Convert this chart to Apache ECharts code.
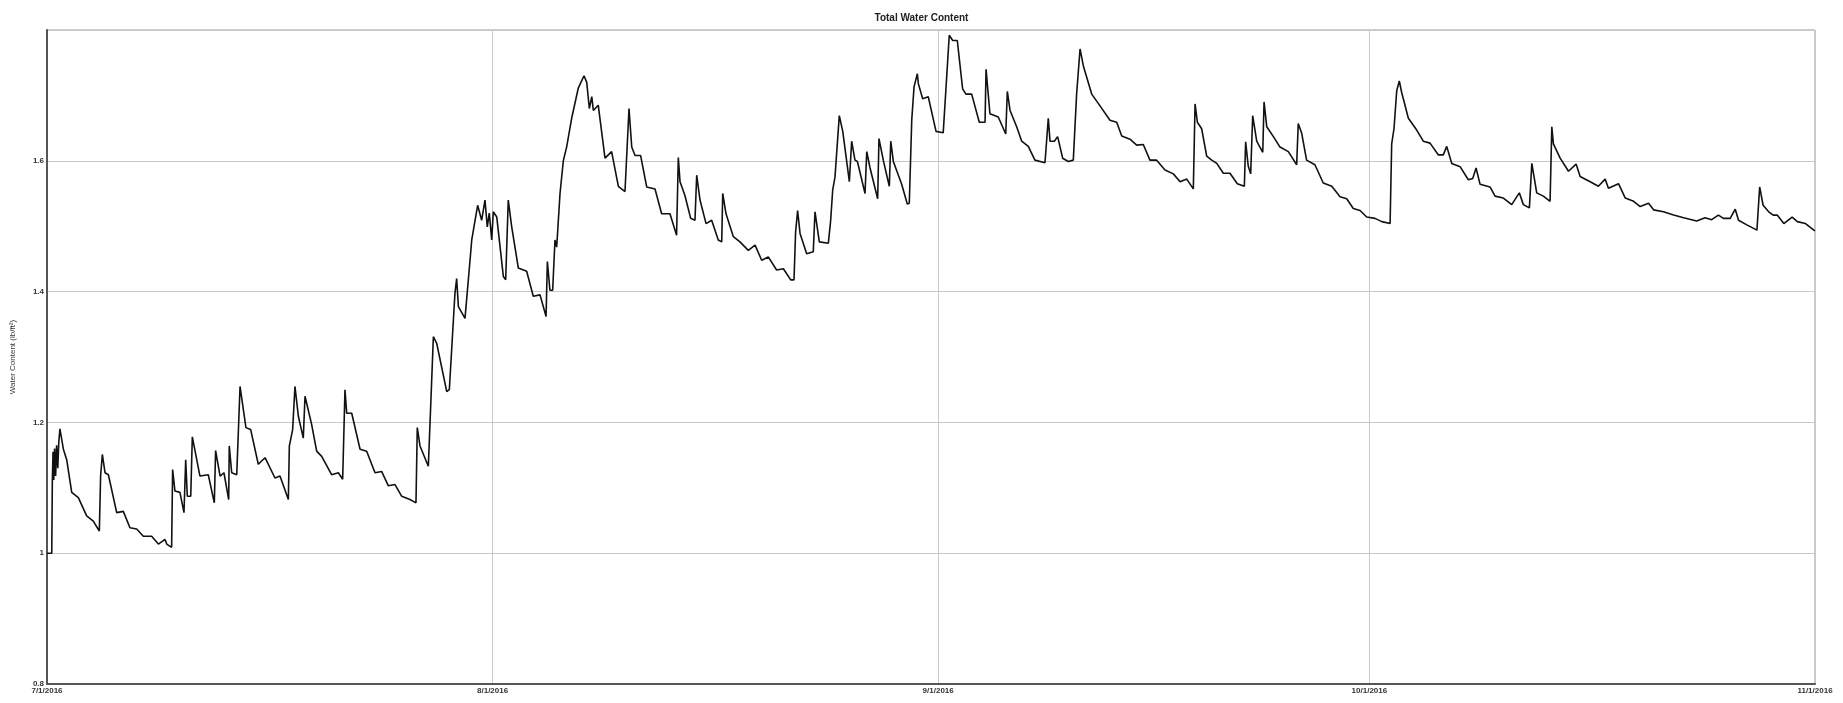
<!DOCTYPE html>
<html>
<head>
<meta charset="utf-8">
<script src="https://cdn.jsdelivr.net/npm/echarts@6/dist/echarts.min.js"></script>
<style>
  html, body { margin: 0; padding: 0; background: #fff; }
  #chart { width: 1843px; height: 703px; }
</style>
</head>
<body>
<div id="chart"></div>
<script>
// days since 7/1/2016
var dayOffsets = [
  0, 0.33, 0.37, 0.42, 0.47, 0.53, 0.6, 0.67, 0.75, 0.82, 0.9, 1.14, 1.37, 1.72, 2.18, 2.76, 3.22, 3.64, 3.73, 3.85,
  4.04, 4.27, 4.85, 5.31, 5.77, 6.24, 6.7, 7.28, 7.75, 8.21, 8.33, 8.67, 8.74, 8.9, 9.25, 9.53, 9.65, 9.76, 10.0, 10.11,
  10.64, 11.22, 11.64, 11.73, 12.04, 12.31, 12.64, 12.68, 12.85, 13.2, 13.43, 13.84, 14.17, 14.7, 15.17, 15.86, 16.21, 16.79, 16.86, 17.09,
  17.25, 17.49, 17.83, 17.95, 18.41, 18.76, 19.11, 19.8, 20.27, 20.57, 20.73, 20.85, 21.2, 21.78, 22.24, 22.82, 23.28, 23.75, 24.21, 24.68,
  25.25, 25.67, 25.76, 25.95, 26.53, 26.88, 27.11, 27.81, 27.99, 28.38, 28.5, 28.62, 29.08, 29.43, 29.55, 29.96, 30.24, 30.47, 30.63, 30.77,
  30.94, 31.05, 31.29, 31.75, 31.91, 32.09, 32.33, 32.79, 33.37, 33.83, 34.3, 34.72, 34.81, 34.99, 35.18, 35.34, 35.46, 35.69, 35.92, 36.15,
  36.5, 36.96, 37.36, 37.55, 37.73, 37.9, 38.01, 38.35, 38.82, 39.28, 39.75, 40.21, 40.33, 40.49, 40.68, 40.91, 41.3, 41.72, 42.3, 42.76,
  43.34, 43.8, 43.92, 44.04, 44.38, 44.78, 45.08, 45.2, 45.43, 45.85, 46.24, 46.7, 46.94, 47.01, 47.24, 47.75, 48.21, 48.79, 49.26, 49.72,
  50.18, 50.76, 51.23, 51.74, 51.97, 52.08, 52.22, 52.39, 52.85, 53.31, 53.43, 53.73, 54.36, 54.52, 54.66, 54.82, 55.12, 55.36, 55.82, 55.98,
  56.21, 56.38, 56.91, 57.03, 57.26, 57.79, 57.88, 58.18, 58.6, 58.7, 58.88, 59.46, 59.85, 59.99, 60.16, 60.32, 60.55, 60.62, 60.92, 61.31,
  61.85, 62.35, 62.59, 62.77, 63.01, 63.33, 63.7, 63.93, 64.33, 64.86, 65.26, 65.33, 65.6, 66.18, 66.7, 66.81, 67.0, 67.46, 67.81, 68.27,
  68.73, 69.43, 69.55, 69.66, 69.78, 70.08, 70.31, 70.66, 71.05, 71.4, 71.63, 71.87, 72.1, 72.68, 73.26, 73.95, 74.42, 74.77, 75.34, 75.81,
  76.27, 76.73, 77.2, 77.78, 78.36, 78.83, 79.29, 79.75, 79.87, 80.03, 80.33, 80.68, 81.03, 81.38, 81.84, 82.3, 82.81, 83.3, 83.39, 83.57,
  83.74, 83.88, 84.16, 84.58, 84.67, 84.86, 85.32, 85.78, 86.36, 86.94, 87.05, 87.29, 87.63, 88.21, 88.79, 89.38, 89.96, 90.42, 90.88, 91.35,
  91.81, 92.39, 92.86, 93.44, 93.55, 93.71, 93.9, 94.08, 94.25, 94.71, 95.29, 95.75, 96.22, 96.8, 97.14, 97.38, 97.73, 98.31, 98.88, 99.19,
  99.42, 99.7, 100.39, 100.74, 101.32, 101.9, 102.43, 102.71, 103.13, 103.3, 103.64, 104.1, 104.57, 104.69, 104.8, 105.27, 105.85, 106.38, 106.66, 107.36,
  107.93, 108.4, 108.63, 109.33, 109.8, 110.38, 110.84, 111.42, 111.77, 112.46, 113.16, 113.86, 114.77, 115.35, 115.81, 116.28, 116.63, 117.1, 117.45, 117.68,
  118.26, 118.96, 119.15, 119.39, 119.78, 120.09, 120.37, 120.83, 121.41, 121.77, 122.34, 122.92, 123
];

// total water content (lb/ft2)
var waterContent = [
  1.0, 1.0, 1.108, 1.155, 1.112, 1.16, 1.118, 1.165, 1.13, 1.17, 1.19, 1.159, 1.143, 1.093, 1.085, 1.057, 1.049, 1.034, 1.118, 1.151,
  1.123, 1.12, 1.062, 1.064, 1.039, 1.037, 1.026, 1.026, 1.014, 1.021, 1.014, 1.009, 1.128, 1.095, 1.093, 1.062, 1.143, 1.087, 1.087, 1.178,
  1.118, 1.12, 1.077, 1.157, 1.118, 1.123, 1.082, 1.164, 1.123, 1.12, 1.255, 1.192, 1.189, 1.136, 1.146, 1.115, 1.118, 1.082, 1.164, 1.189,
  1.255, 1.209, 1.176, 1.24, 1.197, 1.156, 1.148, 1.12, 1.123, 1.113, 1.25, 1.214, 1.214, 1.159, 1.156, 1.123, 1.125, 1.103, 1.105, 1.087,
  1.082, 1.077, 1.192, 1.164, 1.133, 1.331, 1.321, 1.247, 1.25, 1.397, 1.42, 1.377, 1.359, 1.448, 1.479, 1.532, 1.509, 1.54, 1.499, 1.52,
  1.479, 1.522, 1.514, 1.423, 1.418, 1.54, 1.499, 1.436, 1.431, 1.393, 1.395, 1.362, 1.446, 1.402, 1.402, 1.479, 1.468, 1.55, 1.6, 1.621,
  1.665, 1.711, 1.73, 1.72, 1.68, 1.698, 1.677, 1.685, 1.604, 1.614, 1.561, 1.553, 1.553, 1.68, 1.621, 1.608, 1.608, 1.56, 1.557, 1.519,
  1.519, 1.486, 1.605, 1.568, 1.547, 1.512, 1.509, 1.578, 1.54, 1.504, 1.509, 1.479, 1.476, 1.55, 1.519, 1.484, 1.476, 1.463, 1.471, 1.448,
  1.453, 1.433, 1.435, 1.418, 1.418, 1.491, 1.524, 1.489, 1.458, 1.461, 1.522, 1.476, 1.474, 1.509, 1.555, 1.575, 1.669, 1.645, 1.568, 1.63,
  1.601, 1.599, 1.55, 1.614, 1.589, 1.542, 1.634, 1.601, 1.561, 1.63, 1.599, 1.564, 1.534, 1.535, 1.662, 1.713, 1.733, 1.718, 1.695, 1.698,
  1.645, 1.643, 1.728, 1.792, 1.784, 1.784, 1.71, 1.702, 1.702, 1.659, 1.659, 1.74, 1.672, 1.667, 1.641, 1.706, 1.677, 1.652, 1.63, 1.622,
  1.601, 1.597, 1.594, 1.665, 1.63, 1.63, 1.637, 1.604, 1.599, 1.601, 1.702, 1.771, 1.745, 1.702, 1.684, 1.662, 1.659, 1.638, 1.633, 1.624,
  1.625, 1.601, 1.601, 1.586, 1.58, 1.568, 1.572, 1.557, 1.687, 1.659, 1.649, 1.607, 1.601, 1.596, 1.581, 1.581, 1.565, 1.561, 1.629, 1.592,
  1.58, 1.669, 1.63, 1.613, 1.69, 1.652, 1.637, 1.621, 1.614, 1.594, 1.657, 1.642, 1.601, 1.594, 1.566, 1.561, 1.545, 1.542, 1.527, 1.524,
  1.514, 1.512, 1.507, 1.504, 1.626, 1.649, 1.707, 1.722, 1.704, 1.665, 1.647, 1.63, 1.627, 1.609, 1.609, 1.622, 1.596, 1.591, 1.571, 1.573,
  1.589, 1.564, 1.56, 1.546, 1.543, 1.533, 1.551, 1.533, 1.528, 1.596, 1.551, 1.546, 1.538, 1.652, 1.626, 1.604, 1.584, 1.595, 1.576, 1.568,
  1.561, 1.572, 1.558, 1.565, 1.543, 1.538, 1.53, 1.535, 1.525, 1.522, 1.517, 1.513, 1.508, 1.513, 1.51, 1.517, 1.512, 1.512, 1.526, 1.509,
  1.502, 1.494, 1.56, 1.532, 1.522, 1.517, 1.517, 1.504, 1.514, 1.507, 1.504, 1.494, 1.493
];

var tickDays = [0, 31, 62, 92, 123];
var tickLabels = ['7/1/2016', '8/1/2016', '9/1/2016', '10/1/2016', '11/1/2016'];

var seriesData = [];
for (var i = 0; i < dayOffsets.length; i++) {
  seriesData.push([dayOffsets[i], waterContent[i]]);
}

var myChart = echarts.init(document.getElementById('chart'));

var option = {
  animation: false,
  textStyle: { fontFamily: 'Liberation Sans, Arial, sans-serif' },
  title: {
    text: 'Total Water Content',
    left: 'center',
    top: 8,
    textStyle: { fontSize: 10, fontWeight: 'bold', color: '#222' }
  },
  grid: {
    left: 47, right: 28, top: 30, bottom: 19,
    show: true,
    borderColor: '#9a9a9a',
    borderWidth: 1
  },
  xAxis: {
    type: 'value',
    min: 0,
    max: 123,
    axisLine: { show: true, onZero: false, lineStyle: { color: '#555', width: 2 } },
    axisTick: { show: false, customValues: tickDays },
    axisLabel: {
      customValues: tickDays,
      fontSize: 8,
      fontWeight: 'bold',
      color: '#333',
      margin: 3,
      formatter: function (val) {
        var idx = tickDays.indexOf(val);
        return idx >= 0 ? tickLabels[idx] : '';
      }
    },
    splitLine: { show: true, lineStyle: { color: '#c8c8c8', width: 1 } }
  },
  yAxis: {
    type: 'value',
    min: 0.8,
    max: 1.8,
    interval: 0.2,
    name: 'Water Content (lb/ft²)',
    nameLocation: 'middle',
    nameGap: 30,
    nameTextStyle: { fontSize: 8, color: '#333' },
    axisLine: { show: true, lineStyle: { color: '#555', width: 2 } },
    axisTick: { show: false },
    axisLabel: {
      fontSize: 8,
      fontWeight: 'bold',
      color: '#333',
      margin: 3,
      showMaxLabel: false
    },
    splitLine: { show: true, lineStyle: { color: '#c8c8c8', width: 1 } }
  },
  series: [{
    name: 'Total Water Content',
    type: 'line',
    data: seriesData,
    showSymbol: false,
    lineStyle: { color: '#111', width: 1.6 },
    z: 3
  }]
};

myChart.setOption(option);
</script>
</body>
</html>
